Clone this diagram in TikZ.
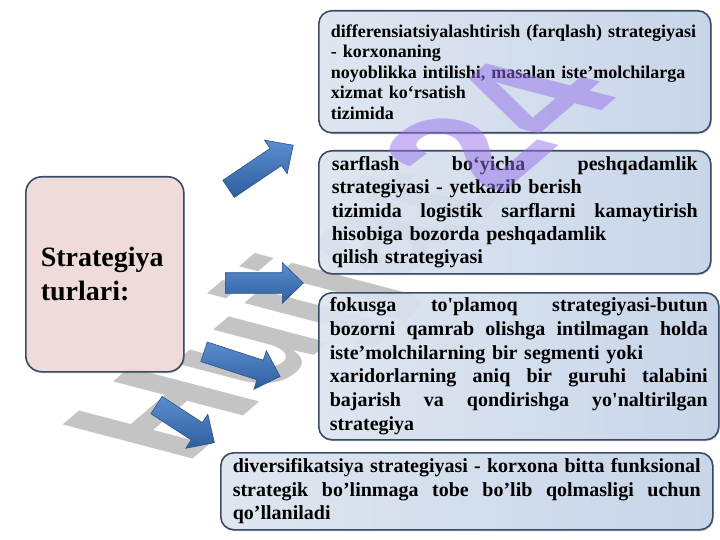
\documentclass[tikz,border=0pt]{standalone}
\usepackage{fontspec}
\setmainfont{Liberation Serif}
\newfontfamily\wmfont{Liberation Sans}
\usepackage{xcolor}
\usetikzlibrary{shapes,arrows,positioning,backgrounds,fit,shadows,arrows.meta}

\definecolor{boxedge}{HTML}{3B4A66}
\definecolor{boxlight}{HTML}{E0E8F4}
\definecolor{boxblue}{HTML}{C6D6EC}
\definecolor{pinkfill}{HTML}{F2DCDB}
\definecolor{arrowlight}{HTML}{5A8ED1}
\definecolor{arrowdark}{HTML}{2F5E9E}
\definecolor{arrowedge}{HTML}{2A5288}
\definecolor{wmgrey}{HTML}{C4C4C4}
\definecolor{wmviolet}{HTML}{9670EB}

% one justified line of a box text
\newcommand{\fullline}[1]{\makebox[\hsize][s]{\spaceskip=0pt\xspaceskip=0pt #1}\\}

\tikzset{
    infobox/.style={draw=boxedge, line width=1.6pt, rounded corners=13pt,
        left color=boxlight, right color=boxblue, fill opacity=0.88,
        text opacity=1, anchor=north west, align=left, inner sep=0pt,
        drop shadow={shadow xshift=1pt, shadow yshift=-1.5pt, opacity=0.3}},
    blockarrow/.style={single arrow, draw=arrowedge, line width=0.6pt,
        top color=arrowlight, bottom color=arrowdark,
        inner xsep=0pt, inner ysep=10pt, minimum width=40pt,
        single arrow head extend=10pt, single arrow tip angle=88},
    wmtext/.style={transform shape, anchor=base west, inner sep=0pt,
        font=\wmfont\bfseries\fontsize{150}{150}\selectfont}
}

\begin{document}
\begin{tikzpicture}[x=1pt, y=-1pt]
    \fill[white] (0,0) rectangle (720,540);
    \useasboundingbox (0,0) rectangle (720,540);

    % Watermark, grey part
    \begin{scope}[shift={(185,466)}, cm={0.757,0.647,-1.26,0.33,(0,0)}]
        \node[wmtext, text=wmgrey] (wmark) at (0,0) {Hujjat};
    \end{scope}

    \begin{scope}
        % Strategy boxes
        \node[infobox, minimum width=392, minimum height=122, text width=368,
            font=\bfseries\fontsize{18}{20.5}\selectfont] (diff) at (318,10) {%
            differensiatsiyalashtirish (farqlash) strategiyasi\\
            - korxonaning\\
            noyoblikka intilishi, masalan iste’molchilarga\\
            xizmat ko‘rsatish\\
            tizimida};
        \node[infobox, minimum width=392, minimum height=123, text width=366,
            font=\bfseries\fontsize{20}{23.3}\selectfont] (cost) at (318,150) {%
            \fullline{sarflash bo‘yicha peshqadamlik}
            strategiyasi - yetkazib berish\\
            \fullline{tizimida logistik sarflarni kamaytirish}
            hisobiga bozorda peshqadamlik\\
            qilish strategiyasi};
        \node[infobox, minimum width=400, minimum height=147, text width=378,
            font=\bfseries\fontsize{20}{23.7}\selectfont] (focus) at (318,292) {%
            \fullline{fokusga to\textquotesingle plamoq strategiyasi-butun}
            \fullline{bozorni qamrab olishga intilmagan holda}
            iste’molchilarning bir segmenti yoki\\
            \fullline{xaridorlarning aniq bir guruhi talabini}
            \fullline{bajarish va qondirishga yo\textquotesingle naltirilgan}
            strategiya};
        \node[infobox, minimum width=492, minimum height=77, text width=468,
            font=\bfseries\fontsize{20}{23.3}\selectfont] (diver) at (220,452) {%
            \fullline{diversifikatsiya strategiyasi - korxona bitta funksional}
            \fullline{strategik bo’linmaga tobe bo’lib qolmasligi uchun}
            qo’llaniladi};

        % Title box
        \node[infobox, left color=pinkfill, right color=pinkfill,
            rounded corners=16pt, minimum width=158, minimum height=195,
            text width=128, font=\bfseries\fontsize{28}{34}\selectfont]
            (types) at (25,176) {Strategiya\\turlari:};

        % Block arrows
        \foreach \name/\x/\y/\ang/\len in {toDiff/256.5/170/34/78,
            toCost/259/283/0/78, toFocus/237/362.5/-18/80, toDiver/181/421/-33/69} {
            \node[blockarrow, rotate=\ang, minimum height=\len] (\name) at (\x,\y) {};
        }
    \end{scope}

    % Watermark, violet part
    \begin{scope}[shift={(185,466)}, cm={0.757,0.647,-1.26,0.33,(0,0)}]
        \node[wmtext, text=wmviolet, opacity=0.5] (wmnum) at (wmark.base east) {24};
    \end{scope}
\end{tikzpicture}
\end{document}
